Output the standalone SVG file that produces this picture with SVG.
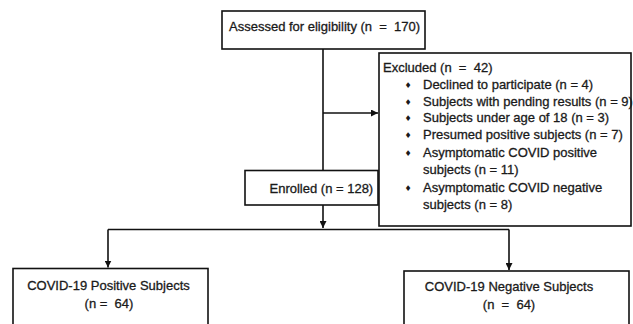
<svg xmlns="http://www.w3.org/2000/svg" width="633" height="324" viewBox="0 0 633 324">
<defs>
<marker id="arr" viewBox="0 0 10 10" refX="10" refY="5" markerWidth="7" markerHeight="7" markerUnits="userSpaceOnUse" orient="auto">
<path d="M0,0 L10,5 L0,10 Z" fill="#111"/>
</marker>
<style>
.box{fill:#fff;stroke:#111;stroke-width:1.6}
.t{font-family:"Liberation Sans",Arial,sans-serif;font-size:13px;fill:#1a1a1a;stroke:#1a1a1a;stroke-width:0.3;white-space:pre}
.c{text-anchor:middle}
.b{font-family:"DejaVu Sans",sans-serif;font-size:8px;fill:#1a1a1a;text-anchor:middle}
.ln{fill:none;stroke:#111;stroke-width:1.6}
</style>
</defs>
<rect width="633" height="324" fill="#fff"/>
<g id="connectors">
<line class="ln" x1="323" y1="49" x2="323" y2="170"/>
<line class="ln" x1="323" y1="113" x2="378" y2="113" marker-end="url(#arr)"/>
<line class="ln" x1="323" y1="205" x2="323" y2="228" marker-end="url(#arr)"/>
<polyline class="ln" points="108,229.5 509,229.5"/>
<line class="ln" x1="108" y1="229.5" x2="108" y2="267.5" marker-end="url(#arr)"/>
<line class="ln" x1="509" y1="229.5" x2="509" y2="270" marker-end="url(#arr)"/>
</g>
<g id="assessed">
<rect class="box" x="222" y="11" width="203" height="38"/>
<text class="t" x="229" y="31" xml:space="preserve">Assessed for eligibility (n  =  170)</text>
</g>
<g id="excluded">
<rect class="box" x="379" y="53" width="252" height="173"/>
<text class="t" x="383" y="72" xml:space="preserve">Excluded (n  =  42)</text>
<text class="b" x="408" y="88">♦</text>
<text class="t" x="423" y="89">Declined to participate (n = 4)</text>
<text class="b" x="408" y="104.5">♦</text>
<text class="t" x="423" y="105.5">Subjects with pending results (n = 9)</text>
<text class="b" x="408" y="121">♦</text>
<text class="t" x="423" y="122">Subjects under age of 18 (n = 3)</text>
<text class="b" x="408" y="138">♦</text>
<text class="t" x="423" y="139">Presumed positive subjects (n = 7)</text>
<text class="b" x="408" y="155.5">♦</text>
<text class="t" x="423" y="156.5">Asymptomatic COVID positive</text>
<text class="t" x="423" y="174">subjects (n = 11)</text>
<text class="b" x="408" y="190.5">♦</text>
<text class="t" x="423" y="191.5">Asymptomatic COVID negative</text>
<text class="t" x="423" y="208.5">subjects (n = 8)</text>
</g>
<g id="enrolled">
<rect class="box" x="245" y="170.5" width="133" height="34.5"/>
<text class="t" x="269.5" y="193">Enrolled (n = 128)</text>
</g>
<g id="positive">
<rect class="box" x="13" y="268.5" width="195" height="70"/>
<text class="t c" x="108.5" y="290">COVID-19 Positive Subjects</text>
<text class="t c" x="109" y="308" xml:space="preserve">(n =  64)</text>
</g>
<g id="negative">
<rect class="box" x="404" y="271" width="225" height="70"/>
<text class="t c" x="509" y="291">COVID-19 Negative Subjects</text>
<text class="t c" x="509" y="309" xml:space="preserve">(n  =  64)</text>
</g>
</svg>
